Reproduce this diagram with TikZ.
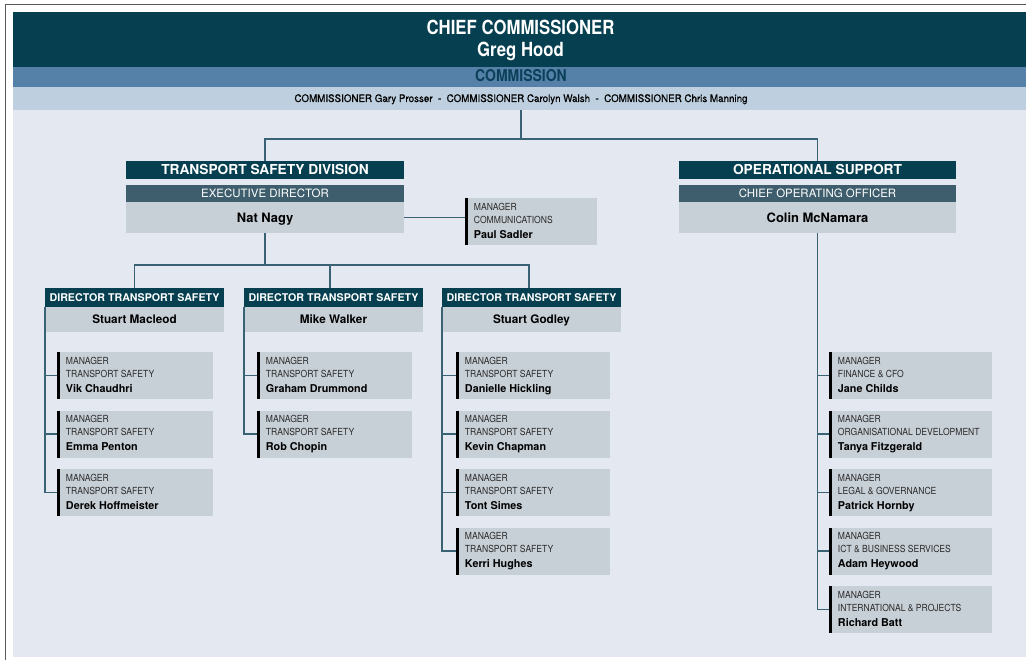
\documentclass[tikz,border=0pt]{standalone}
\usepackage{fontspec}
\setmainfont{TeX Gyre Heros}
\newfontfamily\condb[FakeStretch=0.86]{TeX Gyre Heros}
\newfontfamily\condr[FakeStretch=0.88]{TeX Gyre Heros}
\newfontfamily\commf[FakeStretch=0.94,FakeBold=0.6]{TeX Gyre Heros}
\usetikzlibrary{calc}
\definecolor{darkteal}{HTML}{053F50}
\definecolor{slate}{HTML}{3E5E6D}
\definecolor{namegray}{HTML}{C8D0D7}
\definecolor{bgc}{HTML}{E4E8F0}
\definecolor{medblue}{HTML}{5580A8}
\definecolor{lightband}{HTML}{BED0DF}
\definecolor{conncol}{HTML}{3A6275}
\definecolor{commtext}{HTML}{0A4058}
\definecolor{framec}{HTML}{5A5A5A}
\definecolor{txtgray}{HTML}{2A2A2A}
\newcommand\fs[1]{\fontsize{#1}{#1}\selectfont}
\newcommand\bx[7]{\node[bigbox,#1,minimum width={(#5-#3)*0.75pt},minimum height={(#6-#4)*0.75pt}] (#2) at ({(#3+#5)/2},{(#4+#6)/2}) {#7};}
\newcommand\mgrbox[6]{%
  \node[mbox,minimum width={#4*0.75pt}] (#1) at (#2,#3) {};
  \draw[barline] ([xshift=0.94pt]#1.north west) -- ([xshift=0.94pt]#1.south west);
  \node[mtitle] (#1-a) at (#2+8.7,#3+12.3) {MANAGER};
  \node[mtitle] (#1-b) at (#2+8.7,#3+25.3) {#5};
  \node[mname] (#1-c) at (#2+8.7,#3+40.3) {#6};
}
\tikzset{
  bigbox/.style={inner sep=0pt, outer sep=0pt, anchor=center, draw=none},
  mbox/.style={inner sep=0pt, outer sep=0pt, anchor=north west, fill=namegray, minimum height={47*0.75pt}},
  barline/.style={draw=black, line width=1.9pt},
  mtitle/.style={anchor=base west, inner sep=0pt, font=\condr\fs{7.3}, text=txtgray},
  mname/.style={anchor=base west, inner sep=0pt, font=\bfseries\fs{8.1}, text=black},
  divhdr/.style={fill=darkteal, text=white, font=\bfseries\fs{10.3}, text height=7.4pt, text depth=0pt},
  subhdr/.style={fill=slate, text=white, font=\fs{8.6}, text height=6.2pt, text depth=0pt},
  namebox/.style={fill=namegray, text=black, font=\bfseries\fs{9.7}, text height=7pt, text depth=0pt},
  dirhdr/.style={fill=darkteal, text=white, font=\bfseries\fs{8}, text height=5.8pt, text depth=0pt},
  dirname/.style={fill=namegray, text=black, font=\bfseries\fs{8.8}, text height=6.3pt, text depth=0pt},
  conn/.style={draw=conncol, line width=1pt},
  toptext/.style={anchor=base, inner sep=0pt}
}
\begin{document}
\begin{tikzpicture}[x=0.75pt,y=-0.75pt]
\useasboundingbox (0,0) rectangle (1026,660);
\fill[white] (0,0) rectangle (1026,660);
\fill[bgc] (13,12) rectangle (1026,657);
\draw[framec, line width=1.1pt] (5.5,660) -- (5.5,4.5) -- (1026,4.5);
% header bands
\bx{fill=darkteal}{band1}{13}{12}{1026}{67}{}
\bx{fill=medblue}{band2}{13}{67}{1026}{87}{}
\bx{fill=lightband}{band3}{13}{87}{1026}{110}{}
\node[toptext, font=\condb\bfseries\fs{14.6}, text=white] (t1) at (520.5,35) {CHIEF COMMISSIONER};
\node[toptext, font=\condb\bfseries\fs{14.6}, text=white] (t2) at (520.5,56.5) {Greg Hood};
\node[toptext, font=\condb\bfseries\fs{12.2}, text=commtext] (t3) at (521,82) {COMMISSION};
\node[toptext, font=\commf\fs{7.8}, text=black] (t4) at (521,102) {COMMISSIONER Gary Prosser~~-~~COMMISSIONER Carolyn Walsh~~-~~COMMISSIONER Chris Manning};
% divisions
\bx{divhdr}{tsd}{126}{161}{404}{179}{TRANSPORT SAFETY DIVISION}
\bx{subhdr}{exd}{126}{185}{404}{202}{EXECUTIVE DIRECTOR}
\bx{namebox}{nat}{126}{202}{404}{233}{Nat Nagy}
\bx{divhdr}{os}{679}{161}{956}{179}{OPERATIONAL SUPPORT}
\bx{subhdr}{coo}{679}{185}{956}{202}{CHIEF OPERATING OFFICER}
\bx{namebox}{colin}{679}{202}{956}{233}{Colin McNamara}
\mgrbox{cm}{465}{198}{132}{COMMUNICATIONS}{Paul Sadler}
% directors
\bx{dirhdr}{d1h}{45}{288}{224}{307}{DIRECTOR TRANSPORT SAFETY}
\bx{dirname}{d1n}{45}{307}{224}{332}{Stuart Macleod}
\bx{dirhdr}{d2h}{244}{288}{423}{307}{DIRECTOR TRANSPORT SAFETY}
\bx{dirname}{d2n}{244}{307}{423}{332}{Mike Walker}
\bx{dirhdr}{d3h}{442}{288}{621}{307}{DIRECTOR TRANSPORT SAFETY}
\bx{dirname}{d3n}{442}{307}{621}{332}{Stuart Godley}
% managers
\mgrbox{m11}{57}{352}{156}{TRANSPORT SAFETY}{Vik Chaudhri}
\mgrbox{m12}{57}{410.5}{156}{TRANSPORT SAFETY}{Emma Penton}
\mgrbox{m13}{57}{469}{156}{TRANSPORT SAFETY}{Derek Hoffmeister}
\mgrbox{m21}{257}{352}{155}{TRANSPORT SAFETY}{Graham Drummond}
\mgrbox{m22}{257}{410.5}{155}{TRANSPORT SAFETY}{Rob Chopin}
\mgrbox{m31}{456}{352}{154}{TRANSPORT SAFETY}{Danielle Hickling}
\mgrbox{m32}{456}{410.5}{154}{TRANSPORT SAFETY}{Kevin Chapman}
\mgrbox{m33}{456}{469}{154}{TRANSPORT SAFETY}{Tont Simes}
\mgrbox{m34}{456}{527.5}{154}{TRANSPORT SAFETY}{Kerri Hughes}
\mgrbox{o1}{829}{352}{163}{FINANCE \& CFO}{Jane Childs}
\mgrbox{o2}{829}{410.5}{163}{ORGANISATIONAL DEVELOPMENT}{Tanya Fitzgerald}
\mgrbox{o3}{829}{469}{163}{LEGAL \& GOVERNANCE}{Patrick Hornby}
\mgrbox{o4}{829}{527.5}{163}{ICT \& BUSINESS SERVICES}{Adam Heywood}
\mgrbox{o5}{829}{586}{163}{INTERNATIONAL \& PROJECTS}{Richard Batt}
% connectors
\coordinate (j1) at (521,139);
\coordinate (j2) at (265,265);
\draw[conn] (j1 |- band3.south) -- (j1);
\draw[conn] (tsd.north) |- (j1) -| (os.north);
\draw[conn] (nat.east) -- (nat.east -| cm.west);
\draw[conn] (nat.south) -- (j2);
\draw[conn] (d1h.north) |- (j2) -| ([xshift=-1.9pt]d3h.north);
\draw[conn] (j2) -| ([xshift=-2.6pt]d2h.north);
\draw[conn] (d1h.south west) |- (m13.west);
\draw[conn] (m11.west) -- (m11.west -| d1h.west);
\draw[conn] (m12.west) -- (m12.west -| d1h.west);
\draw[conn] (d2h.south west) |- (m22.west);
\draw[conn] (m21.west) -- (m21.west -| d2h.west);
\draw[conn] (d3h.south west) |- (m34.west);
\draw[conn] (m31.west) -- (m31.west -| d3h.west);
\draw[conn] (m32.west) -- (m32.west -| d3h.west);
\draw[conn] (m33.west) -- (m33.west -| d3h.west);
\draw[conn] (colin.south) |- (o5.west);
\draw[conn] (o1.west) -- (o1.west -| colin.south);
\draw[conn] (o2.west) -- (o2.west -| colin.south);
\draw[conn] (o3.west) -- (o3.west -| colin.south);
\draw[conn] (o4.west) -- (o4.west -| colin.south);
\end{tikzpicture}
\end{document}
